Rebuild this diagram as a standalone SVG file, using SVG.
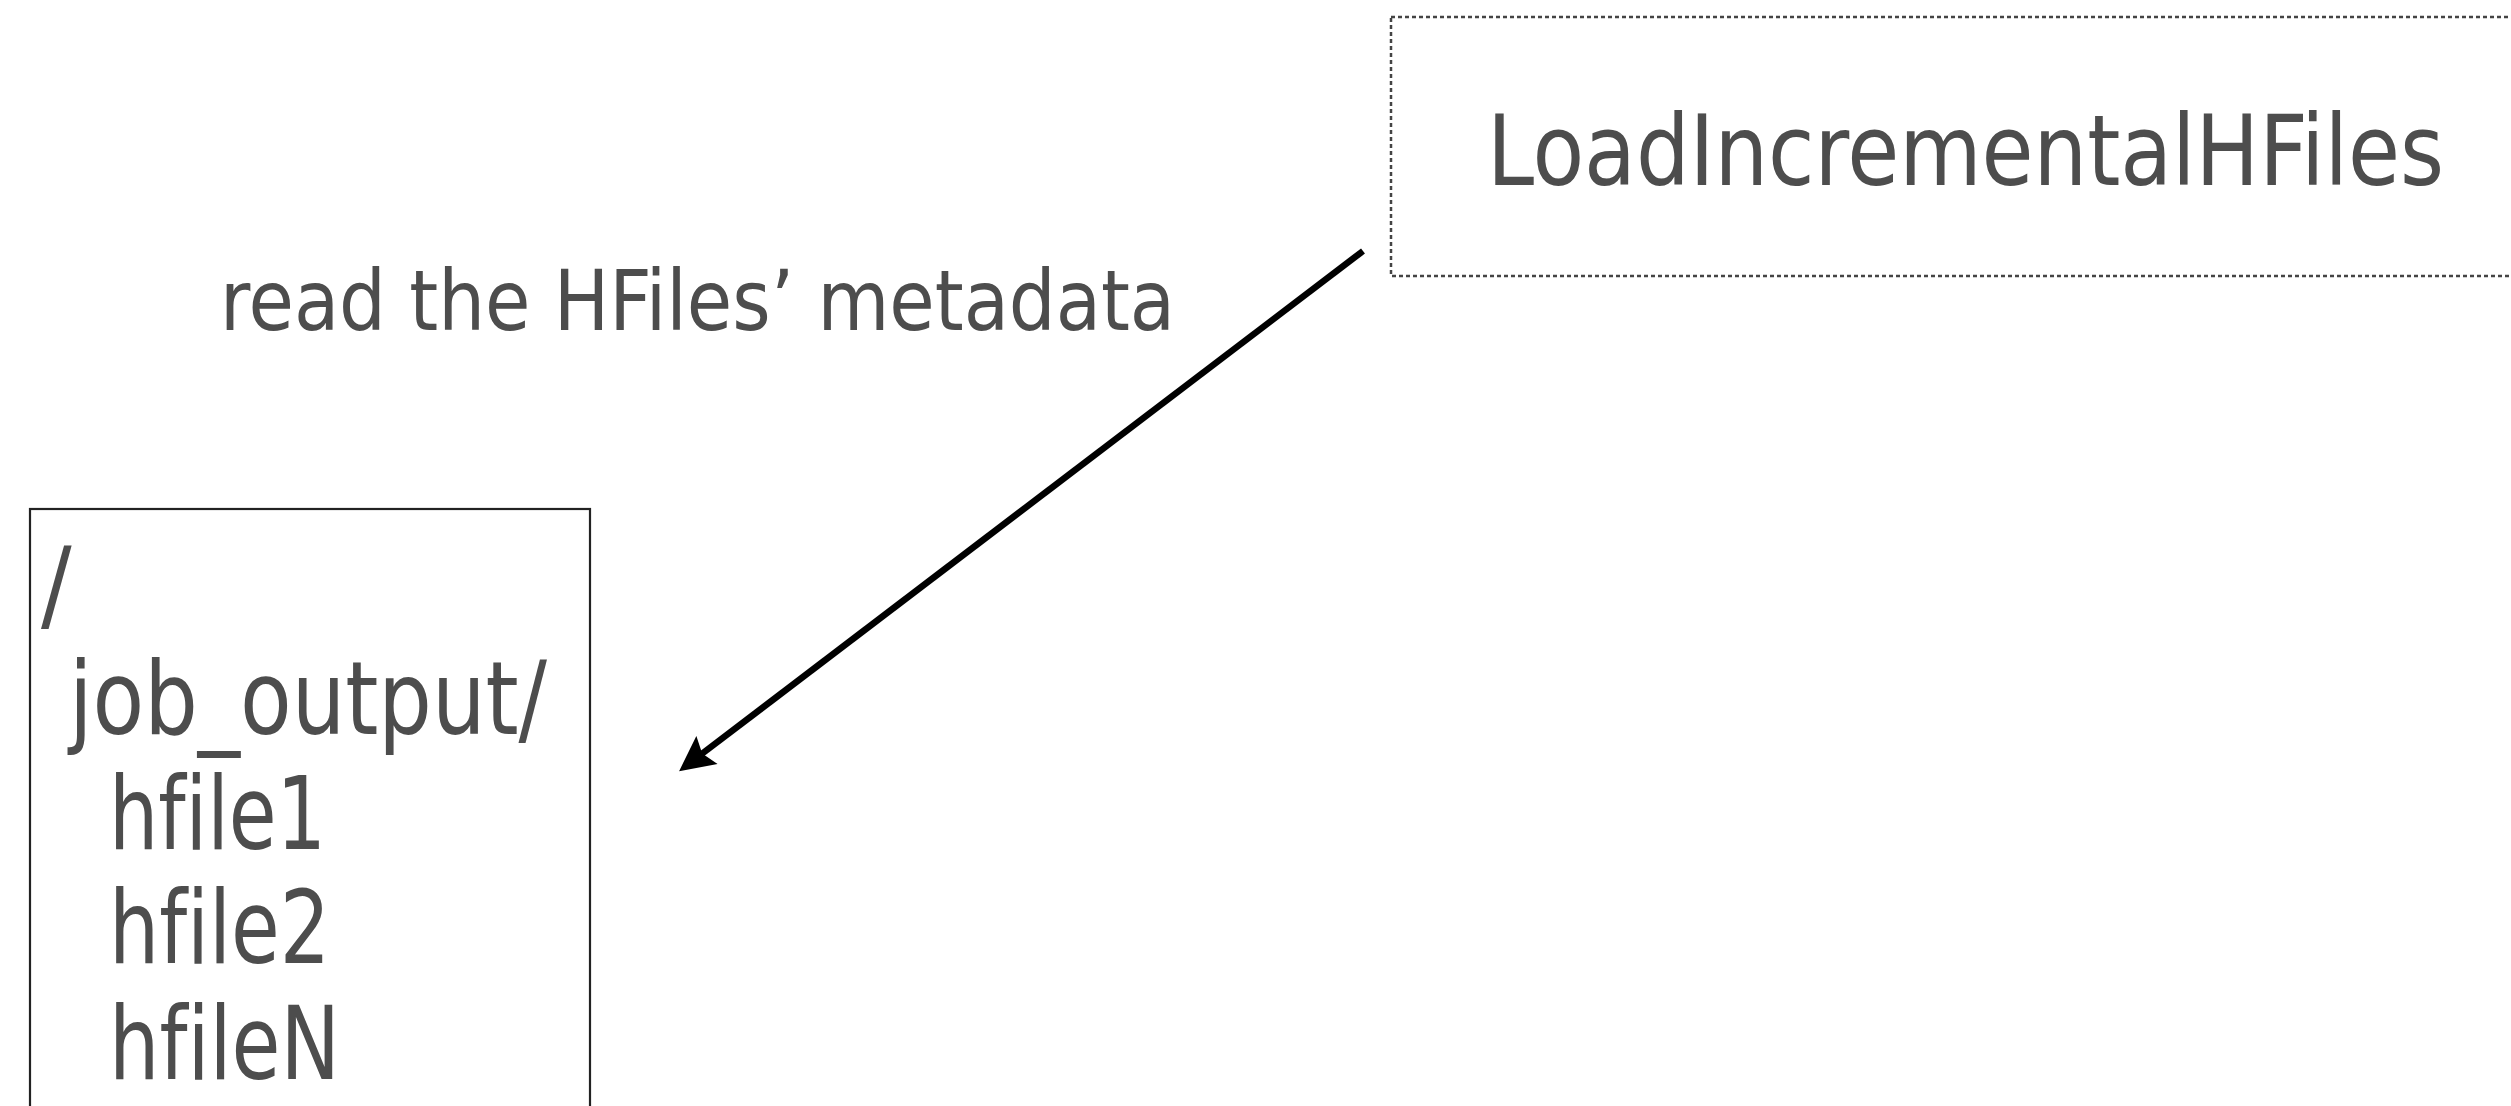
<svg xmlns="http://www.w3.org/2000/svg" width="2511" height="1106" viewBox="0 0 2511 1106">
<style>
.t{font-family:"DejaVu Sans Condensed","DejaVu Sans",sans-serif;font-stretch:condensed;fill:#4d4d4d;font-variant-ligatures:none;font-feature-settings:"liga" 0}
</style>
<defs>
<marker id="ah" markerUnits="userSpaceOnUse" viewBox="-12 -20 40 40" refX="0" refY="0" markerWidth="40" markerHeight="40" orient="auto">
<path d="M25,0 L-10,-17.5 L-4,0 L-10,17.5 Z" fill="#000"/>
</marker>
</defs>
<rect width="2511" height="1106" fill="#fff"/>
<g id="loader">
<rect x="1391" y="17" width="1140" height="259" fill="none" stroke="#444" stroke-width="2.5" stroke-dasharray="4 3"/>
<text class="t" x="1487" y="185" font-size="98" textLength="957" lengthAdjust="spacingAndGlyphs">LoadIncrementalHFiles</text>
</g>
<g id="filesystem">
<rect x="30" y="509" width="560" height="640" fill="none" stroke="#222" stroke-width="2.2"/>
<text class="t" font-size="101">
<tspan x="41" y="620">/</tspan>
<tspan x="69" y="734" textLength="478" lengthAdjust="spacingAndGlyphs">job_output/</tspan>
<tspan x="109" y="849" textLength="217" lengthAdjust="spacingAndGlyphs">hfile1</tspan>
<tspan x="109" y="963" textLength="221" lengthAdjust="spacingAndGlyphs">hfile2</tspan>
<tspan x="109" y="1079" textLength="231" lengthAdjust="spacingAndGlyphs">hfileN</tspan>
</text>
</g>
<g id="connectors">
<line x1="1363" y1="251" x2="699" y2="756" stroke="#000" stroke-width="6.5" marker-end="url(#ah)"/>
<text class="t" x="220" y="330" font-size="84" textLength="955" lengthAdjust="spacingAndGlyphs">read the HFiles’ metadata</text>
</g>
</svg>
